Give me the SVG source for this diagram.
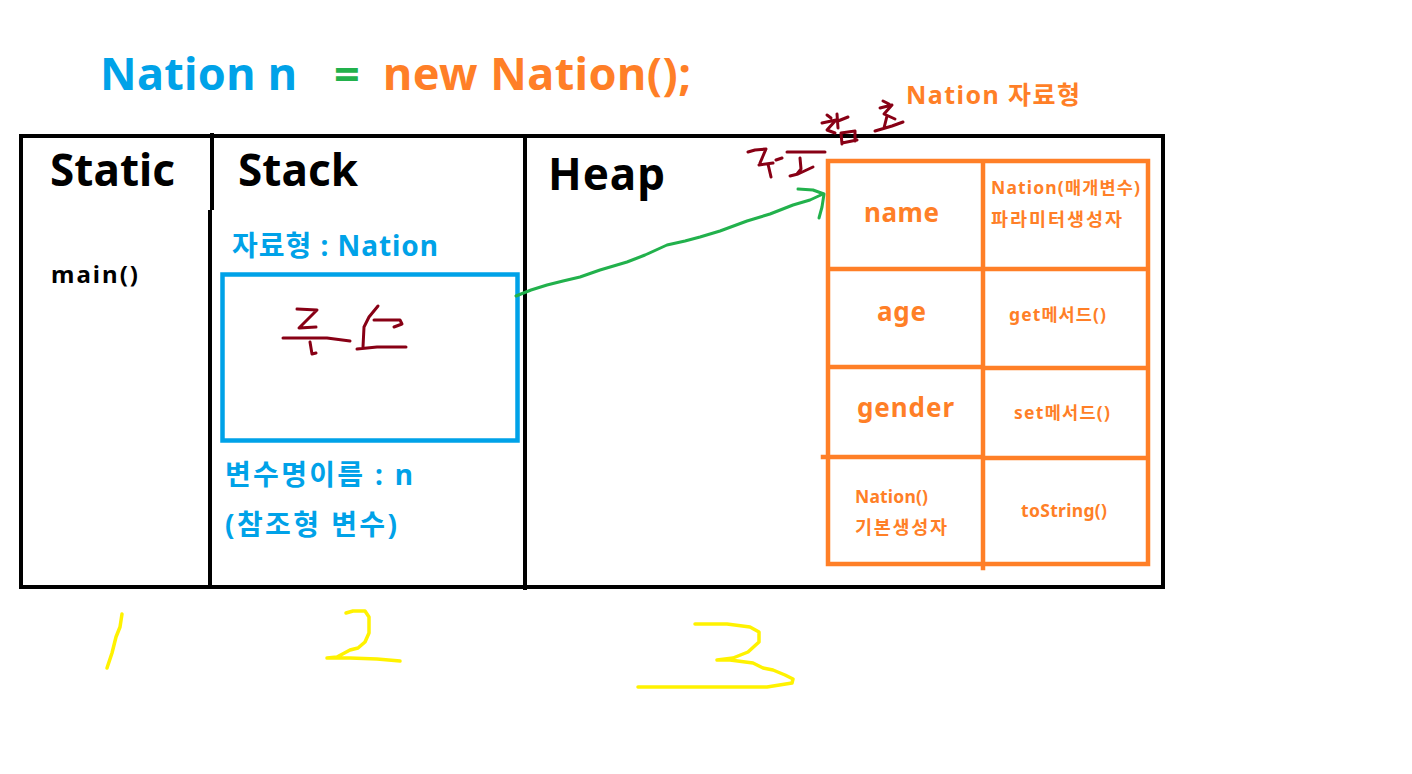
<svg xmlns="http://www.w3.org/2000/svg" width="1412" height="774" viewBox="0 0 1412 774">
<style>
text{font-family:"Noto Sans","Noto Sans CJK KR",sans-serif;font-weight:bold}
.blk{fill:#000}
.blu{fill:#00A2E8}
.grn{fill:#22B14C}
.org{fill:#FF7F27}
.frame{fill:none;stroke:#000;stroke-width:4}
.tbl{fill:none;stroke:#FF7F27;stroke-width:4.5;stroke-linecap:square}
.ink{fill:none;stroke:#880015;stroke-width:3;stroke-linecap:round;stroke-linejoin:round}
.yel{fill:none;stroke:#FFF200;stroke-width:3.5;stroke-linecap:round;stroke-linejoin:round}
.h1{font-size:44px}
.t48{font-size:45px}
.t27{font-size:26px}
.t28{font-size:28px}
.t17{font-size:17.5px}
.k18{font-size:18.5px}
</style>
<rect width="1412" height="774" fill="#fff"/>

<g id="title">
<text class="blu t48" x="100" y="90" textLength="197">Nation n</text>
<text class="grn t48" x="334" y="90">=</text>
<text class="org t48" x="383" y="90" textLength="308">new Nation();</text>
</g>

<g id="memory-frame">
<rect class="frame" x="21" y="136" width="1142" height="451"/>
<path class="frame" d="M212 133 V210 M210 210 V587 M525 136 V590"/>
</g>

<g id="static-area">
<text class="blk h1" x="50" y="186" textLength="125">Static</text>
<text class="blk" x="51" y="283" font-size="24" textLength="87">main()</text>
</g>

<g id="stack-area">
<text class="blk h1" x="238" y="186" textLength="120">Stack</text>
<text class="blu t28" x="232" y="256" textLength="206">자료형 : Nation</text>
<rect id="var-n" x="222.5" y="274.5" width="295" height="166" fill="none" stroke="#00A2E8" stroke-width="4.5"/>
<text class="blu t28" x="225" y="485" textLength="188">변수명이름 : n</text>
<text class="blu t28" x="225" y="535" textLength="172">(참조형 변수)</text>
</g>

<g id="heap-area">
<text class="blk h1" x="548" y="190" textLength="117">Heap</text>
<text class="org" x="906" y="104" font-size="25" textLength="174">Nation 자료형</text>
</g>

<g id="nation-object">
<path class="tbl" d="M828 161 H1148 V564 H828 Z M983 161 V568 M828 269 H1148 M828 367 H983 M983 368 H1148 M823 457 H983 M983 458 H1148"/>
<text class="org t27" x="864" y="222" textLength="75">name</text>
<text class="org t17" x="991" y="194" textLength="149">Nation(매개변수)</text>
<text class="org k18" x="991" y="226" textLength="131">파라미터생성자</text>
<text class="org t27" x="877" y="321" textLength="49">age</text>
<text class="org t17" x="1009" y="321" textLength="97">get메서드()</text>
<text class="org t27" x="857" y="417" textLength="97">gender</text>
<text class="org t17" x="1014" y="419" textLength="96">set메서드()</text>
<text class="org t17" x="855" y="503" textLength="73">Nation()</text>
<text class="org k18" x="855" y="534" textLength="92">기본생성자</text>
<text class="org t17" x="1021" y="517" textLength="86">toString()</text>
</g>

<g id="connectors">
<path fill="none" stroke="#22B14C" stroke-width="3" stroke-linecap="round" stroke-linejoin="round" d="M516 296 L531 290 L547 285 L563 281 L580 277 L600 270 L627 262 L645 255 L667 245 L685 241 L700 237 L720 231 L747 221 L770 214 L793 205 L810 200 L823 194"/>
<path fill="none" stroke="#22B14C" stroke-width="3" stroke-linecap="round" stroke-linejoin="round" d="M798 189 L813 190 L824 194 L822 207 L819 218"/>
</g>

<g id="handwriting">
<path class="ink" d="M297 309 L317 310 L299 328 L316 327 M283 338 L327 338 L350 341 M310 342 L312 354 L316 353"/>
<path class="ink" d="M378 306 L369 317 L364 327 L363 347 M374 320 L400 320 L402 324 L394 327 M357 349 L377 347 L406 347"/>
<path class="ink" d="M748 152 L755 150 L766 149 L763 156 L760 163 M759 165 L773 163 M768 164 L771 177 M776 160 L782 158"/>
<path class="ink" d="M787 152 L825 152 M800 158 L801 169 L797 174 M790 176 L798 174 L813 167"/>
<path class="ink" d="M827 115 L831 118 M822 123 L836 120 L827 130 L835 133 M837 114 L838 128 M838 121 L848 117 M841 133 L842 144 M841 133 L855 131 L855 141 M842 143 L857 140"/>
<path class="ink" d="M883 101 L889 104 M880 108 L892 105 L884 114 L895 119 M887 116 L884 128 M875 131 L892 126 L903 122"/>
</g>

<g id="area-numbers">
<path class="yel" d="M122 614 L120 627 L116 637 L112 653 L107 668"/>
<path class="yel" d="M346 613 L353 611 L365 611 L369 617 L369 633 L365 642 L358 648 L350 650 L337 657 L327 658 L350 658 L377 659 L400 661"/>
<path class="yel" d="M695 624 L727 624 L750 627 L759 632 L759 642 L748 652 L733 658 L717 660 L730 660 L753 663 L763 668 L773 670 L785 675 L793 679 L792 683 L767 687 L638 687"/>
</g>
</svg>
